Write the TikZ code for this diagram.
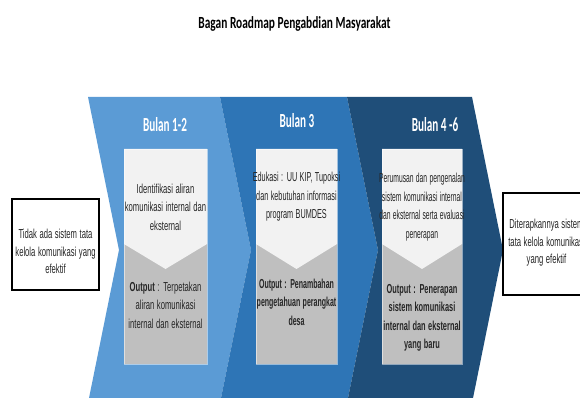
\documentclass[tikz,border=0pt]{standalone}
\usepackage{fontspec}
\setmainfont{Liberation Sans}
\newfontfamily\headfont{Carlito}
\usepackage{tikz}
\usetikzlibrary{positioning,calc}
\definecolor{chevlight}{RGB}{91,155,213}
\definecolor{chevmid}{RGB}{46,117,182}
\definecolor{chevdark}{RGB}{31,78,121}
\definecolor{boxlight}{RGB}{242,242,242}
\definecolor{boxgray}{RGB}{191,191,191}
\definecolor{textgray}{RGB}{38,38,38}

\begin{document}
\begin{tikzpicture}[
  x=1pt,
  y=-1pt,
  bodytext/.style={
    align=center,
    inner sep=0pt,
    text width=220pt,
    text=textgray,
    xscale=#1,
    font=\fontsize{13}{18.5}\selectfont
    },
  bodytext/.default=0.59,
  boldtext/.style={
    align=center,
    inner sep=0pt,
    text width=220pt,
    text=textgray,
    xscale=#1,
    font=\bfseries\fontsize{13}{18.5}\selectfont
    },
  boldtext/.default=0.57,
  headtext/.style={
    text=white,
    inner sep=0pt,
    xscale=0.56,
    font=\headfont\bfseries\fontsize{20}{22}\selectfont
    },
  sidebox/.style={
    draw=black,
    line width=2pt,
    fill=white,
    inner sep=0pt,
    minimum width=87pt,
    minimum height=91pt
    }
]
\useasboundingbox (0,0) rectangle (580,398);
\clip (0,0) rectangle (580,398);

% title
\node [inner sep=0pt, xscale=0.67, font=\headfont\bfseries\fontsize{17}{19}\selectfont] (title) at (294.5,24) {Bagan Roadmap Pengabdian Masyarakat};

% the three chevrons
\foreach \xa/\xb/\col in {88/220/chevlight, 220/347/chevmid, 347/472/chevdark}
  \fill [\col] (\xa,97) -- (\xb,97) -- ({\xb+31},250) -- (\xb,403)
    -- (\xa,403) -- ({\xa+31},250) -- cycle;

% inner boxes: light top with a notch, gray bottom
\foreach \xa/\xb in {124/207, 256/337, 382/462} {
  \fill [boxgray] (\xa,149) rectangle (\xb,364);
  \fill [boxlight] (\xa,149) -- (\xb,149) -- (\xb,244)
    -- ({(\xa+\xb)/2},269) -- (\xa,244) -- cycle;
  \draw [white, opacity=0.5, line width=0.6pt] (\xa,149) rectangle (\xb,364);
}

% headers
\node [headtext] (head1) at (165,125) {Bulan 1-2};
\node [headtext] (head2) at (297,121) {Bulan 3};
\node [headtext] (head3) at (435,125) {Bulan 4 -6};

% month 1-2
\node [bodytext] (in1) at (165.5,207) {Identifikasi aliran\\komunikasi internal dan\\eksternal};
\node [bodytext] (out1) at (165.5,305) {\textbf{Output} : Terpetakan\\aliran komunikasi\\internal dan eksternal};

% month 3
\node [bodytext=0.56] (in2) at (296.5,197) {Edukasi : UU KIP, Tupoksi\\dan kebutuhan informasi\\program BUMDES};
\node [boldtext=0.54] (out2) at (296.5,302) {Output : Penambahan\\pengetahuan perangkat\\desa};

% month 4-6
\node [bodytext=0.52] (in3) at (422,207) {Perumusan dan pengenalan\\sistem komunikasi internal\\dan eksternal serta evaluasi\\penerapan};
\node [boldtext] (out3) at (422,318) {Output : Penerapan\\sistem komunikasi\\internal dan eksternal\\yang baru};

% start and goal
\node [sidebox] (start) at (55.5,244.5) {};
\node [bodytext, font=\fontsize{13}{17.5}\selectfont] (starttext) at ($(start)+(0,7)$) {Tidak ada sistem tata\\kelola komunikasi yang\\efektif};
\node [sidebox, minimum height=102pt] (goal) at (546.5,244) {};
\node [bodytext, font=\fontsize{13}{17.5}\selectfont] (goaltext) at ($(goal)+(0,-1)$) {Diterapkannya sistem\\tata kelola komunikasi\\yang efektif};

\end{tikzpicture}
\end{document}
